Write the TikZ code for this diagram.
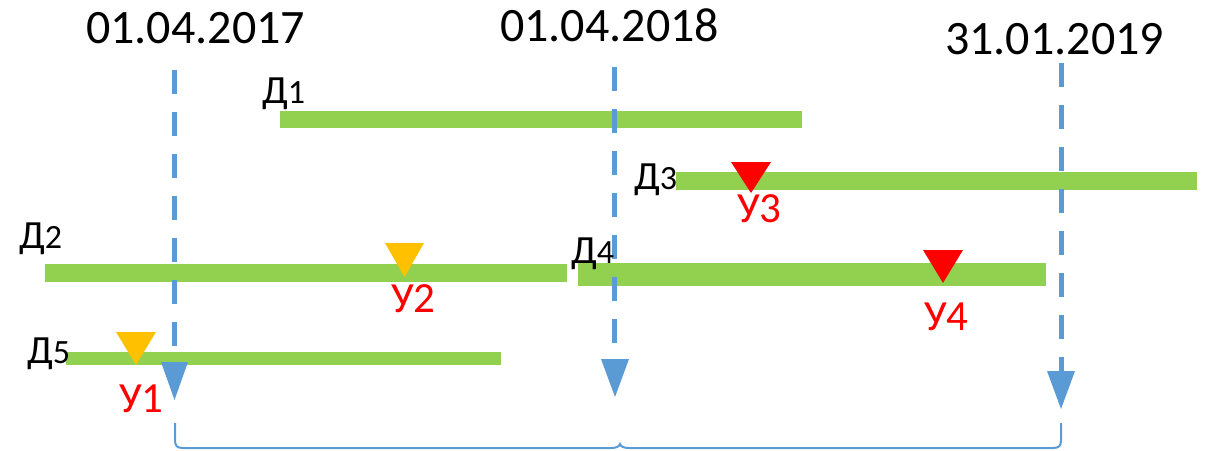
\documentclass[tikz,border=0pt]{standalone}
\usepackage{fontspec}
\setmainfont{Carlito}
\definecolor{bargreen}{HTML}{92D050}
\definecolor{lineblue}{HTML}{5B9BD5}
\definecolor{markyellow}{HTML}{FFC000}
\definecolor{markred}{HTML}{FF0000}
\tikzset{
  datelbl/.style={anchor=base west,inner sep=0pt,font=\fontsize{48}{48}\selectfont},
  dlbl/.style={anchor=base west,inner sep=0pt,font=\fontsize{40}{40}\selectfont},
  ulbl/.style={anchor=base west,inner sep=0pt,text=markred,font=\fontsize{43}{43}\selectfont},
  dashline/.style={draw=lineblue,line width=5pt,dash pattern=on 24pt off 18pt},
  bar/.style={fill=bargreen},
  arrowhead/.style={fill=lineblue},
  brace/.style={draw=lineblue,line width=2pt}
}
\newcommand{\dsub}[1]{{\fontsize{34}{34}\selectfont #1}}
\begin{document}
\begin{tikzpicture}[x=1pt,y=-1pt]
\useasboundingbox (0,0) rectangle (1205,450);
% dates
\node[datelbl] (d2017) at (86,43) {01.04.2017};
\node[datelbl] (d2018) at (500,41) {01.04.2018};
\node[datelbl] (d2019) at (945,54) {31.01.2019};
% green bars
\fill[bar] (280,111) rectangle (802,128);
\fill[bar] (676,172) rectangle (1197,190);
\fill[bar] (45,264) rectangle (567,282);
\fill[bar] (578,263) rectangle (1046,286);
\fill[bar] (66,352) rectangle (501,365);
% dashed lines
\coordinate (t1) at (174,70);
\coordinate (b1) at (174,362);
\coordinate (t2) at (614,67);
\coordinate (b2) at (614,359);
\coordinate (t3) at (1061,63);
\coordinate (b3) at (1061,372);
\draw[dashline] (t1) -- (b1);
\draw[dashline] (t2) -- (b2);
\draw[dashline] (t3) -- (b3);
% arrowheads
\fill[arrowhead] (161,362) -- (188,362) -- (174.5,400) -- cycle;
\fill[arrowhead] (601,359) -- (629,359) -- (615,397) -- cycle;
\fill[arrowhead] (1047,371) -- (1075,371) -- (1061,409) -- cycle;
% markers
\fill[markyellow] (116,332) -- (156,332) -- (136,365) -- cycle;
\fill[markyellow] (385,243) -- (424,243) -- (404.5,277) -- cycle;
\fill[markred] (731,162) -- (771,162) -- (751,193) -- cycle;
\fill[markred] (923,250) -- (963,250) -- (943,283) -- cycle;
% D labels
\node[dlbl] (D1) at (262,103) {Д\dsub{1}};
\node[dlbl] (D2) at (19,248) {Д\dsub{2}};
\node[dlbl] (D3) at (634,189) {Д\dsub{3}};
\node[dlbl] (D4) at (571,263) {Д\dsub{4}};
\node[dlbl] (D5) at (27,363) {Д\dsub{5}};
% U labels
\node[ulbl] (U1) at (119,412) {У1};
\node[ulbl] (U2) at (391,312) {У2};
\node[ulbl] (U3) at (737,222) {У3};
\node[ulbl] (U4) at (924,330) {У4};
% brace
\draw[brace] (175,423) -- (175,440) .. controls (175,446) and (177,448) .. (183,448)
  -- (610,448) .. controls (616,448) and (619,447) .. (620,444)
  .. controls (621,447) and (624,448) .. (630,448)
  -- (1053,448) .. controls (1059,448) and (1061,446) .. (1061,440) -- (1061,423);
\end{tikzpicture}
\end{document}
